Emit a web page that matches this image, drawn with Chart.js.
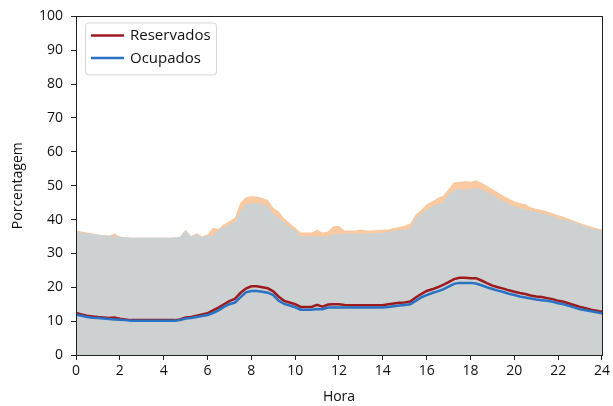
<!DOCTYPE html>
<html>
<head>
<meta charset="utf-8">
<script src="https://cdn.jsdelivr.net/npm/chart.js@4"></script>
<style>
  html, body { margin: 0; padding: 0; background: #fff; }
  #wrap { width: 613px; height: 406px; }
</style>
</head>
<body>
<div id="wrap"><canvas id="c" width="613" height="406"></canvas></div>
<script>
const hours = [
  0, 0.25, 0.5, 0.75, 1, 1.25, 1.5, 1.75,
  2, 2.25, 2.5, 2.75, 3, 3.25, 3.5, 3.75,
  4, 4.25, 4.5, 4.75, 5, 5.25, 5.5, 5.75,
  6, 6.25, 6.5, 6.75, 7, 7.25, 7.5, 7.75,
  8, 8.25, 8.5, 8.75, 9, 9.25, 9.5, 9.75,
  10, 10.25, 10.5, 10.75, 11, 11.25, 11.5, 11.75,
  12, 12.25, 12.5, 12.75, 13, 13.25, 13.5, 13.75,
  14, 14.25, 14.5, 14.75, 15, 15.25, 15.5, 15.75,
  16, 16.25, 16.5, 16.75, 17, 17.25, 17.5, 17.75,
  18, 18.25, 18.5, 18.75, 19, 19.25, 19.5, 19.75,
  20, 20.25, 20.5, 20.75, 21, 21.25, 21.5, 21.75,
  22, 22.25, 22.5, 22.75, 23, 23.25, 23.5, 23.75,
  24
];
// upper (gray) area
const capacidadeCinza = [
  36.4, 36.1, 35.9, 35.7, 35.5, 35.4, 35.2, 35.1,
  34.9, 34.8, 34.6, 34.6, 34.6, 34.6, 34.6, 34.6,
  34.6, 34.6, 34.7, 34.9, 36.8, 35.0, 35.8, 34.8,
  35.3, 35.4, 36.8, 37.8, 38.4, 39.3, 42.5, 44.5,
  44.8, 44.8, 44.6, 44.0, 41.8, 40.5, 39.2, 37.8,
  36.8, 35.0, 35.0, 35.0, 35.0, 35.0, 35.0, 35.7,
  35.7, 35.9, 35.9, 35.9, 35.9, 35.9, 35.9, 36.0,
  36.1, 36.4, 36.7, 36.9, 37.1, 37.4, 40.5, 41.7,
  43.0, 43.8, 44.6, 45.0, 47.5, 48.8, 48.9, 48.9,
  48.9, 49.4, 48.9, 48.1, 47.3, 46.3, 45.4, 44.6,
  43.9, 43.4, 43.0, 42.6, 42.2, 41.9, 41.5, 41.0,
  40.4, 40.0, 39.6, 39.1, 38.6, 37.9, 37.4, 37.0,
  36.7
];
// peach area (upper band)
const capacidadePessego = [
  36.8, 36.5, 36.2, 35.9, 35.6, 35.4, 35.2, 35.9,
  35.0, 34.8, 34.6, 34.6, 34.6, 34.6, 34.6, 34.6,
  34.6, 34.6, 34.7, 34.9, 37.0, 35.1, 36.0, 35.0,
  35.6, 37.6, 37.2, 38.6, 39.5, 40.6, 45.0, 46.6,
  46.9, 46.8, 46.4, 45.8, 43.5, 42.4, 40.3, 39.0,
  37.6, 36.2, 36.2, 36.2, 37.0, 36.2, 36.5, 38.1,
  38.1, 36.8, 36.8, 36.8, 37.1, 36.8, 36.8, 36.9,
  37.0, 37.1, 37.5, 37.8, 38.2, 38.8, 41.5, 42.8,
  44.5, 45.3, 46.4, 47.0, 49.0, 51.0, 51.2, 51.3,
  51.2, 51.6, 50.9, 50.0, 49.0, 48.0, 47.0, 46.2,
  45.4, 44.8, 44.6, 43.6, 43.2, 42.8, 42.4, 41.9,
  41.3, 40.8, 40.2, 39.6, 39.0, 38.4, 37.9, 37.4,
  37.1
];
const reservados = [
  12.4, 12.0, 11.6, 11.4, 11.2, 11.1, 10.9, 11.1,
  10.7, 10.5, 10.3, 10.3, 10.3, 10.3, 10.3, 10.3,
  10.3, 10.3, 10.3, 10.5, 11.1, 11.2, 11.6, 12.0,
  12.3, 13.2, 14.0, 15.0, 15.9, 16.6, 18.3, 19.6,
  20.3, 20.3, 20.0, 19.7, 18.8, 17.2, 16.0, 15.5,
  15.0, 14.2, 14.2, 14.2, 14.8, 14.3, 14.9, 15.0,
  15.0, 14.8, 14.7, 14.7, 14.7, 14.7, 14.7, 14.7,
  14.7, 15.0, 15.2, 15.4, 15.5, 15.8, 17.0, 18.0,
  18.9, 19.4, 20.0, 20.7, 21.5, 22.4, 22.8, 22.8,
  22.7, 22.7, 22.0, 21.2, 20.5, 20.0, 19.6, 19.1,
  18.7, 18.3, 18.0, 17.6, 17.3, 17.1, 16.8, 16.5,
  16.0, 15.7, 15.2, 14.7, 14.2, 13.8, 13.4, 13.1,
  12.8
];
const ocupados = [
  11.9, 11.6, 11.2, 11.0, 10.9, 10.8, 10.6, 10.5,
  10.4, 10.3, 10.1, 10.1, 10.1, 10.1, 10.1, 10.1,
  10.1, 10.1, 10.1, 10.3, 10.8, 10.9, 11.2, 11.5,
  11.8, 12.4, 13.2, 14.2, 15.0, 15.5, 17.0, 18.5,
  18.9, 18.9, 18.7, 18.4, 17.7, 16.0, 15.1, 14.6,
  14.1, 13.4, 13.4, 13.4, 13.6, 13.5, 14.0, 14.0,
  14.0, 14.0, 14.0, 14.0, 14.0, 14.0, 14.0, 14.0,
  14.0, 14.2, 14.4, 14.6, 14.8, 15.0, 16.0, 17.0,
  17.7, 18.3, 18.8, 19.4, 20.2, 21.0, 21.3, 21.3,
  21.3, 21.1, 20.6, 20.0, 19.5, 19.0, 18.6, 18.1,
  17.7, 17.3, 17.0, 16.7, 16.4, 16.2, 16.0, 15.7,
  15.3, 15.0, 14.5, 14.0, 13.5, 13.2, 12.9, 12.6,
  12.3
];
const seriesLabels = ['Reservados', 'Ocupados'];
const xTicks = [0, 2, 4, 6, 8, 10, 12, 14, 16, 18, 20, 22, 24];
const yTicks = [0, 10, 20, 30, 40, 50, 60, 70, 80, 90, 100];

const FONT = '"Open Sans", "DejaVu Sans", sans-serif';
const pts = arr => hours.map((h, i) => ({ x: h, y: arr[i] }));

const frame = {
  id: 'frame',
  afterDatasetsDraw(chart) {
    const a = chart.chartArea, ctx = chart.ctx;
    ctx.save();
    ctx.strokeStyle = '#222';
    ctx.lineWidth = 1;
    ctx.strokeRect(Math.round(a.left) + 0.5, Math.round(a.top) + 0.5,
                   Math.round(a.right - a.left), Math.round(a.bottom - a.top));
    ctx.restore();
  },
  afterDraw(chart) {
    const a = chart.chartArea, ctx = chart.ctx;
    const ds = chart.data.datasets.filter(d => d.showInLegend);
    const x0 = a.left + 9, y0 = a.top + 6, w = 131, h = 52;
    ctx.save();
    ctx.globalAlpha = 0.85;
    ctx.fillStyle = '#fff';
    ctx.strokeStyle = '#d6d6d6';
    ctx.lineWidth = 1;
    ctx.beginPath();
    ctx.roundRect(x0 + 0.5, y0 + 0.5, w, h, 3);
    ctx.fill();
    ctx.globalAlpha = 1;
    ctx.stroke();
    ctx.font = '15px ' + FONT;
    ctx.textBaseline = 'middle';
    ds.forEach((d, i) => {
      const yy = y0 + 13 + i * 22.5;
      ctx.strokeStyle = d.borderColor;
      ctx.lineWidth = 2.5;
      ctx.beginPath();
      ctx.moveTo(x0 + 6, yy);
      ctx.lineTo(x0 + 39, yy);
      ctx.stroke();
      ctx.fillStyle = '#111';
      ctx.fillText(d.label, x0 + 45, yy + 0.5);
    });
    ctx.restore();
  }
};

new Chart(document.getElementById('c'), {
  type: 'line',
  data: {
    datasets: [
      { label: 'cinza', data: pts(capacidadeCinza), fill: 'origin', backgroundColor: '#cdd1d2',
        borderWidth: 0, pointRadius: 0, order: 3 },
      { label: 'pessego', data: pts(capacidadePessego), fill: 'origin', backgroundColor: '#f9c9a1',
        borderWidth: 0, pointRadius: 0, order: 4 },
      { label: seriesLabels[0], data: pts(reservados), fill: false, borderColor: '#9b1b1e',
        borderWidth: 2.5, pointRadius: 0, order: 2, showInLegend: true },
      { label: seriesLabels[1], data: pts(ocupados), fill: false, borderColor: '#2a72c3',
        borderWidth: 2.5, pointRadius: 0, order: 1, showInLegend: true }
    ]
  },
  options: {
    responsive: false,
    animation: false,
    layout: { padding: { left: 0, right: 11, top: 14, bottom: 0 } },
    plugins: { legend: { display: false }, tooltip: { enabled: false } },
    elements: { line: { tension: 0 } },
    scales: {
      x: {
        type: 'linear', min: 0, max: 24,
        afterBuildTicks: s => { s.ticks = xTicks.map(v => ({ value: v })); },
        afterFit: s => { s.height = 51; },
        grid: { display: true, drawOnChartArea: false, drawTicks: true, tickLength: 5, color: '#222' },
        border: { display: true, color: '#222', width: 1 },
        ticks: { color: '#111', font: { family: FONT, size: 14 }, padding: 3, maxRotation: 0 },
        title: { display: true, text: 'Hora', color: '#111', font: { family: FONT, size: 14 }, padding: { top: 0, bottom: 1 } }
      },
      y: {
        min: 0, max: 100,
        afterBuildTicks: s => { s.ticks = yTicks.map(v => ({ value: v })); },
        afterFit: s => { s.width = 76; },
        grid: { display: true, drawOnChartArea: false, drawTicks: true, tickLength: 5, color: '#222' },
        border: { display: true, color: '#222', width: 1 },
        ticks: { color: '#111', font: { family: FONT, size: 14 }, padding: 8 },
        title: { display: true, text: 'Porcentagem', color: '#111', font: { family: FONT, size: 14 }, padding: { top: 10, bottom: 0 } }
      }
    }
  },
  plugins: [frame]
});
</script>
</body>
</html>
